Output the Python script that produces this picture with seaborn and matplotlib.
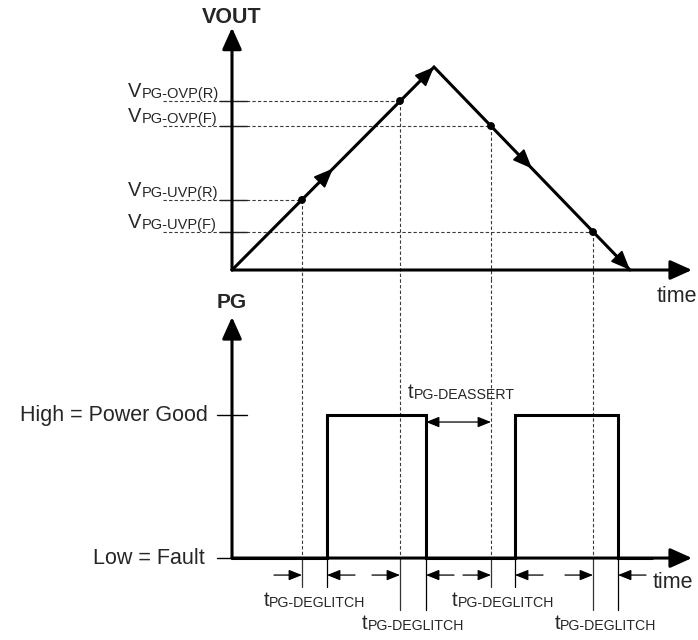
import matplotlib.pyplot as plt
import seaborn as sns
from matplotlib.offsetbox import AnnotationBbox, HPacker, TextArea

# VOUT ramp up and down (arbitrary time / voltage units)
ramp_time = [0.0, 10.1, 19.9]
ramp_vout = [0.0, 10.05, 0.0]

# PG thresholds and the times where VOUT crosses them
threshold_names = ["PG-OVP(R)", "PG-OVP(F)", "PG-UVP(R)", "PG-UVP(F)"]
threshold_levels = [8.37, 7.13, 3.47, 1.88]
crossing_times = [8.4, 12.95, 3.5, 18.05]

# PG output (0 = fault, 1 = power good)
pg_time = [0.0, 4.75, 9.7, 14.15, 19.3, 21.0]
pg_state = [0, 1, 0, 1, 0, 0]
pg_level_labels = ["Low = Fault", "High = Power Good"]

# deglitch windows: threshold crossing -> PG edge
deglitch_start = [3.5, 8.4, 12.95, 18.05]
deglitch_end = [4.75, 9.7, 14.15, 19.3]
deglitch_row = ["near", "far", "near", "far"]

# deassert window: PG falls -> OVP(F) crossing
deassert_window = [9.7, 12.95]

T_AXIS_END = 23.0
V_AXIS_END = 12.0
PG_AXIS_END = 1.685

LW = 2.2
DASH_COLOR = "#3a3a3a"
AXIS_HEAD = "-|>,head_length=0.6,head_width=0.27"
RAMP_HEAD = "-|>,head_length=0.8,head_width=0.33"
DIM_HEAD = "-|>,head_length=0.8,head_width=0.32"


def sub_label(ax, x, y, main, sub, align, offset=(0, 0), main_size=14, sub_size=10):
    box = HPacker(
        children=[
            TextArea(main, textprops=dict(size=main_size)),
            TextArea(sub, textprops=dict(size=sub_size)),
        ],
        align="bottom", pad=0, sep=0,
    )
    ab = AnnotationBbox(box, (x, y), xybox=offset, boxcoords="offset points",
                        box_alignment=align, frameon=False, pad=0,
                        annotation_clip=False)
    ax.add_artist(ab)


def arrow(ax, start, end, style=AXIS_HEAD, scale=22, lw=LW):
    ax.annotate(
        "", xy=end, xytext=start, annotation_clip=False,
        arrowprops=dict(arrowstyle=style, mutation_scale=scale, lw=lw,
                        color="black", shrinkA=0, shrinkB=0),
    )


def draw_vout(ax):
    ax.set_xlim(-11.6, 23.3)
    ax.set_ylim(-0.495, 13.37)
    ax.set_axis_off()

    arrow(ax, (0, 0), (0, V_AXIS_END))
    arrow(ax, (0, 0), (T_AXIS_END, 0))
    ax.text(0, 12.52, "VOUT", ha="center", va="center", size=15.5, weight="bold")
    ax.text(21.25, -1.29, "time", ha="left", va="center", size=15.5)

    for name, lvl, t in zip(threshold_names, threshold_levels, crossing_times):
        ax.plot([-3.45, t], [lvl, lvl], color=DASH_COLOR, lw=0.8,
                ls=(0, (3, 2)), zorder=1)
        ax.plot([t, t], [lvl, -3], color=DASH_COLOR, lw=0.8,
                ls=(0, (3, 2)), zorder=1)
        ax.plot([-0.6, 0.75], [lvl, lvl], color="#222222", lw=1.0, zorder=2)
        sub_label(ax, -5.2, lvl, "V", name, (0, 0), offset=(0, 0.3),
                  main_size=14.5, sub_size=10.5)

    sns.lineplot(x=ramp_time, y=ramp_vout, color="black", lw=LW, ax=ax,
                 solid_joinstyle="miter", zorder=3)
    sns.scatterplot(x=crossing_times, y=threshold_levels, color="black", s=32,
                    edgecolor="none", ax=ax, zorder=4)

    # direction arrows on the ramp
    for i in range(len(ramp_time) - 1):
        x0, x1 = ramp_time[i], ramp_time[i + 1]
        y0, y1 = ramp_vout[i], ramp_vout[i + 1]
        for f in (0.5, 1.0):
            tip = (x0 + f * (x1 - x0), y0 + f * (y1 - y0))
            tail = (tip[0] - 0.1 * (x1 - x0), tip[1] - 0.1 * (y1 - y0))
            arrow(ax, tail, tip, style=RAMP_HEAD, scale=15, lw=1.2)


def draw_pg(ax):
    ax.set_xlim(-11.6, 23.3)
    ax.set_ylim(-0.573, 1.944)
    ax.set_axis_off()

    arrow(ax, (0, 0), (0, PG_AXIS_END))
    arrow(ax, (0, 0), (T_AXIS_END, 0))
    ax.text(0, 1.79, "PG", ha="center", va="center", size=15, weight="bold")
    ax.text(21.05, -0.168, "time", ha="left", va="center", size=15.5)

    ax.plot([-0.75, 0.75], [1, 1], color="black", lw=1.0)
    ax.plot([-0.75, 0], [0, 0], color="black", lw=1.0)
    ax.text(-1.2, 1, pg_level_labels[1], ha="right", va="center", size=15.5)
    ax.text(-1.35, 0, pg_level_labels[0], ha="right", va="center", size=15.5)

    # dashed crossings continuing from the VOUT panel
    for t in crossing_times:
        ax.plot([t, t], [3, 0], color=DASH_COLOR, lw=0.8, ls=(0, (3, 2)), zorder=1)

    sns.lineplot(x=pg_time, y=pg_state, drawstyle="steps-post", color="black",
                 lw=LW, ax=ax, solid_joinstyle="miter", zorder=3)

    for t0, t1, row in zip(deglitch_start, deglitch_end, deglitch_row):
        depth = -0.203 if row == "near" else -0.364
        label_y = -0.294 if row == "near" else -0.455
        ax.plot([t0, t0], [0, depth], color="#333333", lw=0.9, clip_on=False)
        ax.plot([t1, t1], [0, depth], color="black", lw=0.9, clip_on=False)
        arrow(ax, (t0 - 1.4, -0.119), (t0, -0.119), style=DIM_HEAD, scale=10, lw=0.9)
        arrow(ax, (t1 + 1.4, -0.119), (t1, -0.119), style=DIM_HEAD, scale=10, lw=0.9)
        sub_label(ax, (t0 + t1) / 2, label_y, "t", "PG-DEGLITCH", (0.5, 0.5),
                  main_size=14.5, sub_size=10.2)

    arrow(ax, (deassert_window[0], 0.951), (deassert_window[1], 0.951),
          style="<|-|>,head_length=0.8,head_width=0.32", scale=10, lw=0.9)
    sub_label(ax, 8.8, 1.16, "t", "PG-DEASSERT", (0, 0.5),
              main_size=14.5, sub_size=10.2)


def main() -> None:
    sns.set_style("white")
    plt.rcParams["font.family"] = ["Liberation Sans", "DejaVu Sans"]

    fig = plt.figure(figsize=(6.98, 6.4), dpi=100)
    ax_v = fig.add_axes([0, 0.5625, 1, 0.4375])
    ax_pg = fig.add_axes([0, 0, 1, 0.5625])

    draw_vout(ax_v)
    draw_pg(ax_pg)

    fig.savefig("out.png", dpi=100)
    plt.close(fig)


if __name__ == "__main__":
    main()
